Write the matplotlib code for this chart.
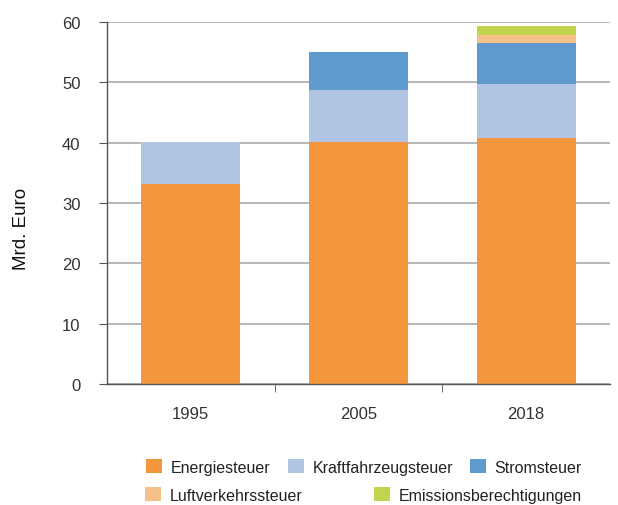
import matplotlib
matplotlib.use("Agg")
import matplotlib.pyplot as plt
import numpy as np

years = ["1995", "2005", "2018"]
energiesteuer = [33.2, 40.1, 40.7]
kfz = [6.9, 8.7, 9.1]
strom = [0.0, 6.3, 6.8]
luft = [0.0, 0.0, 1.2]
emission = [0.0, 0.0, 1.5]
series_names = ["Energiesteuer", "Kraftfahrzeugsteuer", "Stromsteuer",
                "Luftverkehrssteuer", "Emissionsberechtigungen"]
colors = ["#F4963B", "#B0C4E3", "#5E9ACD", "#F7C28A", "#C2D44E"]

plt.rcParams['font.family'] = ['Liberation Sans', 'DejaVu Sans']

fig = plt.figure(figsize=(6.18, 5.06), dpi=100)
ax = fig.add_axes([107/618, 121/506, (610-107)/618, (385-23)/506])

x = np.arange(len(years))
bottom = np.zeros(len(years))
bars = []
for vals, c in zip([energiesteuer, kfz, strom, luft, emission], colors):
    b = ax.bar(x, vals, width=0.59, bottom=bottom, color=c, zorder=2)
    bars.append(b)
    bottom = bottom + np.array(vals)

ax.set_xlim(-0.5, 2.5)
ax.set_ylim(0, 60)
ax.set_yticks(range(0, 61, 10))
ax.set_xticks(x)
ax.set_xticklabels(years)
ax.set_xticks([0.5, 1.5], minor=True)
ax.tick_params(axis='x', which='major', length=0, pad=16, labelsize=12, labelcolor='#333333')
ax.tick_params(axis='x', which='minor', length=6, color='#555555')
ax.tick_params(axis='y', length=6, color='#555555', labelsize=12, labelcolor='#333333', pad=13)
ax.yaxis.grid(True, color='#AAAAAA', linewidth=1.2, zorder=0)
ax.set_axisbelow(True)
for s in ['top', 'right']:
    ax.spines[s].set_visible(False)
for s in ['left', 'bottom']:
    ax.spines[s].set_color('#555555')
    ax.spines[s].set_linewidth(1.0)
ax.set_ylabel("Mrd. Euro", fontsize=13.5, color='#111111')
ax.yaxis.set_label_coords((30-107)/503, (385-229)/362)

positions = [(146, 468), (288, 468), (470, 468), (145, 496), (374, 496)]
for b, name, (px, py) in zip(bars, series_names, positions):
    leg = fig.legend([b], [name], loc='center left',
                     bbox_to_anchor=(px/618, 1 - py/506), frameon=False,
                     fontsize=11.5, handlelength=1.0, handleheight=1.0,
                     handletextpad=0.55, borderaxespad=0, borderpad=0)
    for t in leg.get_texts():
        t.set_color('#222222')

fig.savefig("out.png", dpi=100)
